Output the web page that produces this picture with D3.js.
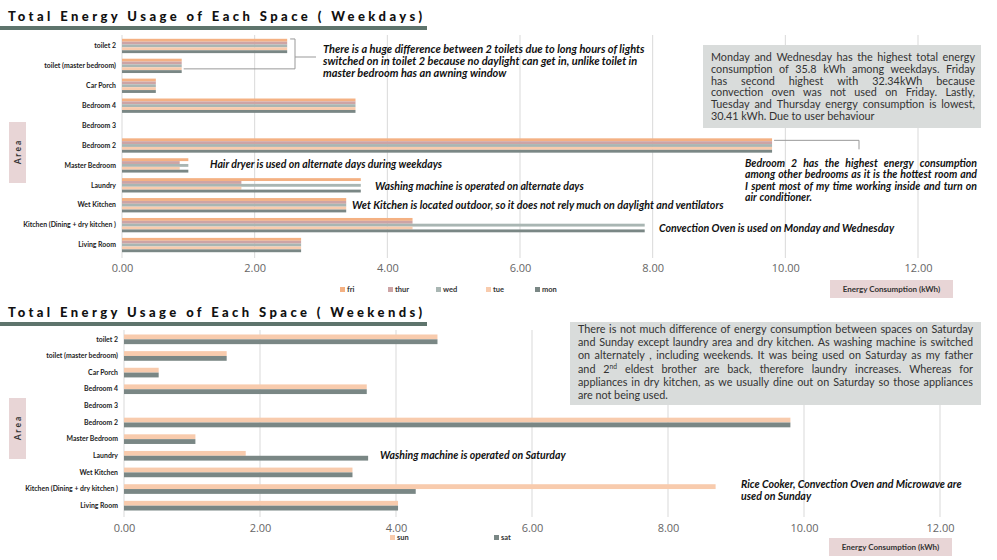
<!DOCTYPE html>
<html><head><meta charset="utf-8">
<script src="https://cdn.jsdelivr.net/npm/d3@7"></script>
<style>body{margin:0;background:#fff} svg{display:block}</style>
</head><body><svg id="c" width="997" height="560"></svg>
<script>
// ---------- DATA ----------
const categories = ["toilet 2","toilet (master bedroom)","Car Porch","Bedroom 4","Bedroom 3","Bedroom 2","Master Bedroom","Laundry","Wet Kitchen","Kitchen (Dining + dry kitchen )","Living Room "];
const weekdaySeries = ["fri","thur","wed","tue","mon"];
const fri  = [2.49,0.90,0.51,3.52,0,9.80,1.00,3.60,3.38,4.38,2.70];
const thur = [2.49,0.90,0.51,3.52,0,9.80,0.87,1.80,3.38,4.38,2.70];
const wed  = [2.49,0.90,0.51,3.52,0,9.80,1.00,3.60,3.38,7.88,2.70];
const tue  = [2.49,0.90,0.51,3.52,0,9.80,0.87,1.80,3.38,4.38,2.70];
const mon  = [2.49,0.90,0.51,3.52,0,9.80,1.00,3.60,3.38,7.88,2.70];
const weekendSeries = ["sun","sat"];
const sun = [4.61,1.51,0.51,3.57,0,9.80,1.05,1.79,3.36,8.70,4.03];
const sat = [4.61,1.51,0.51,3.57,0,9.80,1.05,3.59,3.36,4.29,4.03];
const xTicks = [0,2,4,6,8,10,12];
const weekdayTitle = "Total Energy Usage of Each Space ( Weekdays)";
const weekendTitle = "Total Energy Usage of Each Space ( Weekends)";
const axisTitle = "Energy Consumption (kWh)";
const areaLabel = "A r e a";

const colors = {fri:"#F4B183", thur:"#CDA4A5", wed:"#A9B6B3", tue:"#F8CBAD", mon:"#7A8785", sun:"#F8CBAD", sat:"#7A8785"};

const svg = d3.select("#c");
const LF = "Lato, 'Open Sans', sans-serif";

function panel(cfg){
  const g = svg.append("g");
  const x = d3.scaleLinear().domain([0,12]).range([cfg.x0, cfg.x1]);
  const y = d3.scaleBand().domain(categories).range([cfg.y0, cfg.y1]).paddingInner(cfg.pad).paddingOuter(cfg.pad/2);
  const ys = d3.scaleBand().domain(cfg.series).range([0, y.bandwidth()]);
  // title
  g.append("rect").attr("x",0).attr("y",cfg.ty+5).attr("width",427).attr("height",4).attr("fill","#5E746C");
  g.append("text").attr("x",8).attr("y",cfg.ty).text(cfg.title)
    .attr("font-family","Lato, sans-serif").attr("font-weight",900).attr("font-size",13)
    .attr("textLength",414).attr("lengthAdjust","spacing").attr("fill","#111");
  // grid
  g.append("g").selectAll("line").data(xTicks).join("line")
    .attr("x1",d=>x(d)).attr("x2",d=>x(d)).attr("y1",cfg.y0-1).attr("y2",cfg.y1+3)
    .attr("stroke","#D9D9D9").attr("stroke-width",1);
  // axis tick labels
  const ax = d3.axisBottom(x).tickValues(xTicks).tickFormat(d3.format(".2f")).tickSize(0);
  const axg = g.append("g").attr("transform",`translate(0,${cfg.tickY})`).call(ax);
  axg.select(".domain").remove();
  axg.selectAll("text").attr("font-family","'Open Sans', sans-serif").attr("font-size",11).attr("fill","#666").attr("dy","0.32em").attr("y",0);
  // category labels
  const ay = d3.axisLeft(y).tickSize(0).tickPadding(0);
  const ayg = g.append("g").attr("transform",`translate(${cfg.x0-6},0)`).call(ay);
  ayg.select(".domain").remove();
  ayg.selectAll("text").attr("font-family",LF).attr("font-weight",700).attr("font-size",6.9).attr("fill","#222");
  // bars
  cfg.series.forEach((s,si)=>{
    g.append("g").selectAll("rect").data(cfg.data[si]).join("rect")
      .attr("x",x(0)).attr("y",(d,i)=>y(categories[i])+ys(s))
      .attr("width",d=>x(d)-x(0)).attr("height",ys.bandwidth())
      .attr("fill",colors[s]);
  });
  // area box
  g.append("rect").attr("x",9).attr("y",cfg.areaY).attr("width",17).attr("height",61).attr("fill","#E8D5D6");
  g.append("text").attr("transform",`translate(21,${cfg.areaY+30.5}) rotate(-90)`).attr("text-anchor","middle")
    .attr("font-family",LF).attr("font-weight",700).attr("font-size",8.5).attr("fill","#333").text(areaLabel);
  // axis title box
  g.append("rect").attr("x",cfg.atX).attr("y",cfg.atY).attr("width",123).attr("height",18).attr("fill","#E8D5D6");
  g.append("text").attr("x",cfg.atX+61.5).attr("y",cfg.atY+12).attr("text-anchor","middle")
    .attr("font-family",LF).attr("font-weight",700).attr("font-size",8).attr("fill","#333").text(axisTitle);
  // legend
  const lg = g.append("g").selectAll("g").data(cfg.series).join("g")
    .attr("transform",(d,i)=>`translate(${cfg.legX[i]},${cfg.legY})`);
  lg.append("rect").attr("x",0).attr("y",-3).attr("width",5).attr("height",5).attr("fill",d=>colors[d]);
  lg.append("text").attr("x",7).attr("y",2).attr("font-family",LF).attr("font-weight",700).attr("font-size",7.5).attr("fill","#333").text(d=>d);
  return {x,y};
}

const wd = panel({title:weekdayTitle, ty:21, x0:122, x1:918, y0:36, y1:255, pad:0.28, series:weekdaySeries,
  data:[fri,thur,wed,tue,mon], tickY:268, areaY:122, atX:830, atY:280, legX:[340,388,436,486,535], legY:290});
const we = panel({title:weekendTitle, ty:317, x0:124, x1:940, y0:331, y1:514, pad:0.42, series:weekendSeries,
  data:[sun,sat], tickY:528, areaY:398, atX:829, atY:538, legX:[390,494], legY:538});

// ---------- annotations ----------
function ann(xp, yp, txt, size){
  return svg.append("text").attr("x",xp).attr("y",yp).attr("font-family",LF).attr("font-weight",700)
    .attr("font-style","italic").attr("font-size",size||10.5).attr("fill","#111").text(txt);
}
function justify(x0, x1, yp, words, opts){
  const g = svg.append("g");
  const els = words.map(w=>{
    const t = g.append("text").attr("y",yp).attr("font-family",opts.family).attr("font-size",opts.size)
      .attr("font-weight",opts.weight||400).attr("font-style",opts.style||"normal").attr("fill",opts.fill||"#333");
    if (Array.isArray(w)) { w.forEach(p=>{ const ts=t.append("tspan").text(p.t); if(p.sup){ts.attr("font-size",opts.size*0.62).attr("dy",-3.5);} }); }
    else t.text(w);
    return t;
  });
  const widths = els.map(e=>e.node().getComputedTextLength());
  const total = d3.sum(widths);
  const gap = opts.last ? opts.space : Math.max(opts.space*0.8,(x1-x0-total)/(words.length-1));
  let cx = x0;
  els.forEach((e,i)=>{ e.attr("x",cx); cx += widths[i]+gap; });
}
function para(x0,x1,y0,lh,lines,opts){
  lines.forEach((l,i)=>{
    const words = l.words || l.split(" ").filter(s=>s.length);
    justify(x0,x1,y0+i*lh,words,Object.assign({},opts,{last:i===lines.length-1}));
  });
}

// toilet bracket
const cxT = wd.x, cyT = wd.y;
const yT2 = cyT("toilet 2")+cyT.bandwidth()/2 - 2, yTM = cyT("toilet (master bedroom)")+cyT.bandwidth()/2+3;
svg.append("path").attr("d",`M${cxT(2.49)+3},${yT2-5}H295V${yTM}H${cxT(0.9)+2}M295,57H316`).attr("fill","none").attr("stroke","#999").attr("stroke-width",1);
ann(323,53,"There is a huge difference between 2 toilets due to long hours of lights",11);
ann(323,65,"switched on in toilet 2 because no daylight can get in, unlike toilet in",11);
ann(323,77,"master bedroom has an awning window",11);
// bedroom 2 connector
const yB2 = cyT("Bedroom 2")+2;
svg.append("path").attr("d",`M${cxT(9.8)+2},${yB2}H859V${yB2+9}`).attr("fill","none").attr("stroke","#999");
para(745,977,167,11.3,["Bedroom 2 has the highest energy consumption","among other bedrooms as it is the hottest room and","I spent most of my time working inside and turn on","air conditioner."],
  {family:LF,size:10.5,weight:700,style:"italic",fill:"#111",space:2.8});
ann(210,168,"Hair dryer is used on alternate days during weekdays");
ann(375,190,"Washing machine is operated on alternate days");
ann(352,209,"Wet Kitchen is located outdoor, so it does not rely much on daylight and ventilators",10.7);
ann(659,232,"Convection Oven is used on Monday and Wednesday",10.6);
ann(380,459,"Washing machine is operated on Saturday");
ann(741,487.5,"Rice Cooker, Convection Oven and Microwave are",10.6);
ann(741,499.5,"used on Sunday",10.6);

// grey info boxes
svg.append("rect").attr("x",703).attr("y",45).attr("width",278).attr("height",83).attr("fill","#D9DCDB");
para(711,975,61,11.8,["Monday and Wednesday has the highest total energy","consumption of  35.8 kWh among weekdays. Friday","has second highest with 32.34kWh because","convection oven was not used on Friday. Lastly,","Tuesday and Thursday energy consumption is lowest,","30.41 kWh.  Due to user behaviour"],
  {family:LF,size:10.8,fill:"#333",space:2.7});
svg.append("rect").attr("x",570).attr("y",322).attr("width",411).attr("height",83).attr("fill","#D9DCDB");
para(578,973,333,13.2,["There is not much difference of energy consumption between spaces on Saturday","and Sunday except laundry area and dry kitchen. As washing machine is switched","on alternately , including weekends. It was being used on Saturday as my father",
  {words:["and",[{t:"2"},{t:"nd",sup:true}],"eldest","brother","are","back,","therefore","laundry","increases.","Whereas","for"]},
  "appliances in dry kitchen, as we usually dine out on Saturday so those appliances","are not being used."],
  {family:LF,size:10.8,fill:"#333",space:2.7});
</script></body></html>
